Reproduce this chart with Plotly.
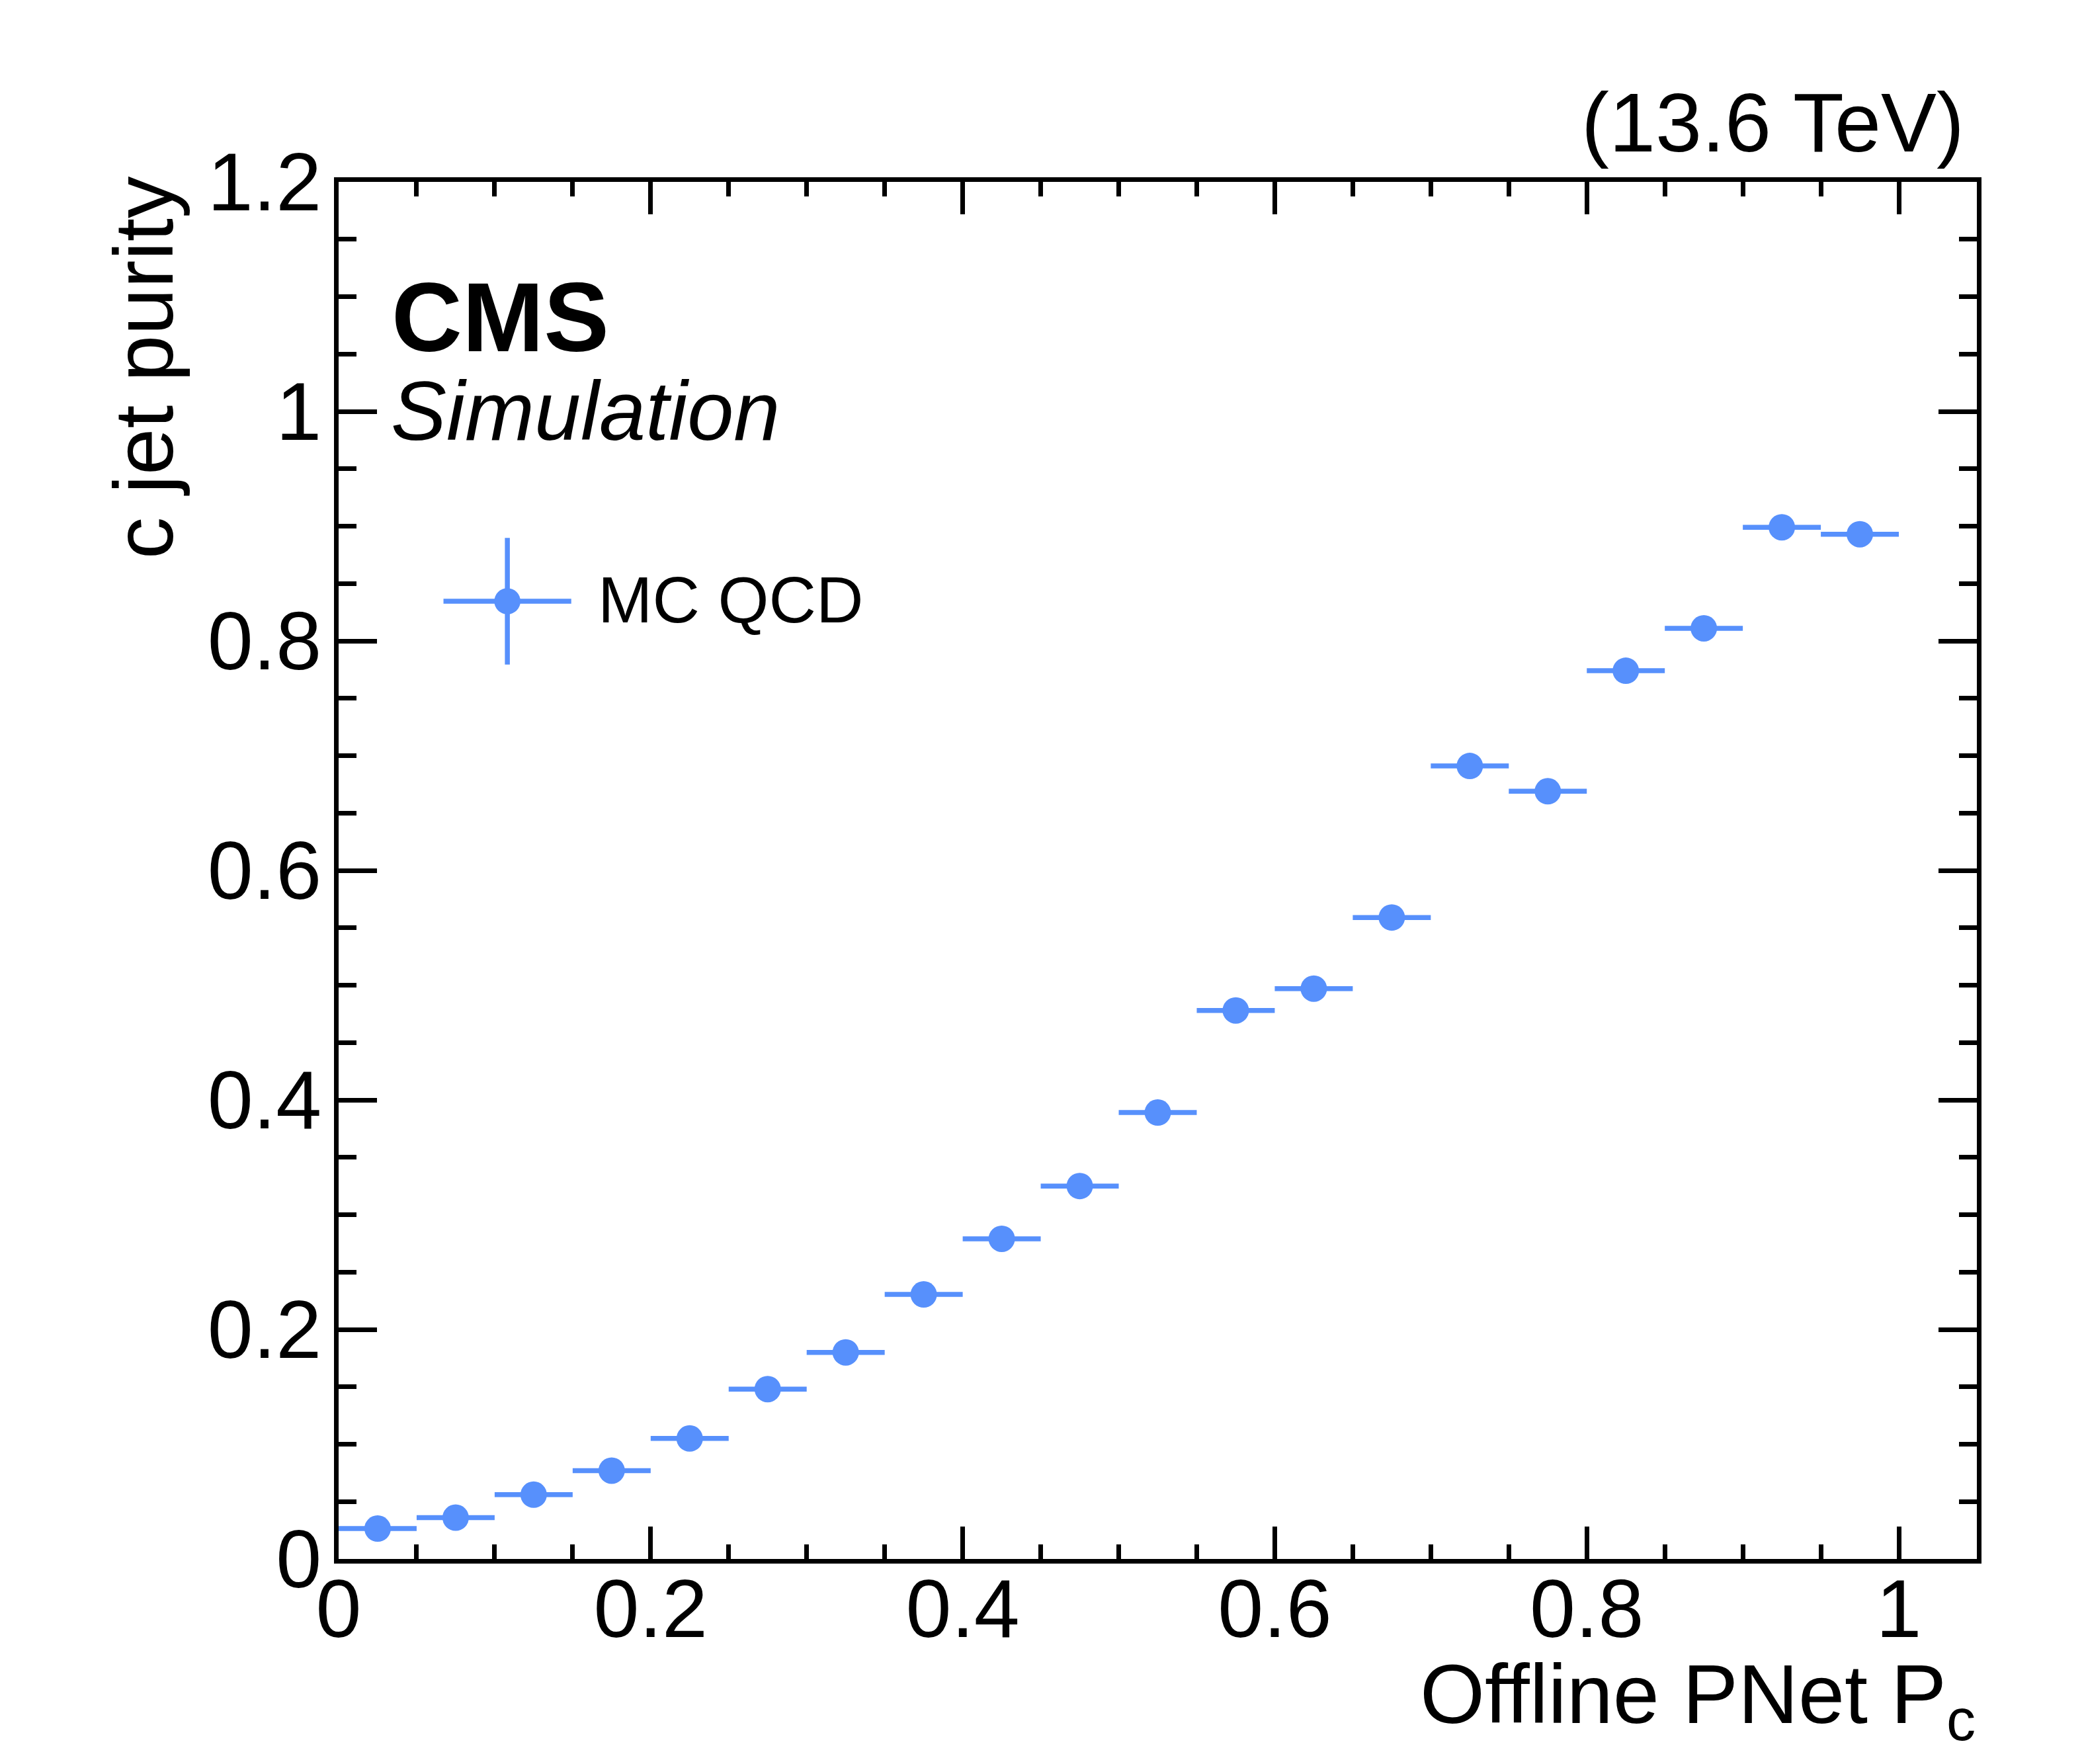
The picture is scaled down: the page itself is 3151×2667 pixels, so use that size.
import plotly.graph_objects as go

# bin centres of Offline PNet P_c and the c-jet purity in each bin
pnet_bins = [0.025, 0.075, 0.125, 0.175, 0.225, 0.275, 0.325, 0.375, 0.425, 0.475,
             0.525, 0.575, 0.625, 0.675, 0.725, 0.775, 0.825, 0.875, 0.925, 0.975]
bin_halfwidth = [0.025] * 20
purity = [0.0265, 0.036, 0.056, 0.077, 0.105, 0.148, 0.180, 0.2305, 0.279, 0.325,
          0.389, 0.478, 0.497, 0.559, 0.691, 0.669, 0.774, 0.811, 0.899, 0.893]

x_ticks = [0, 0.2, 0.4, 0.6, 0.8, 1]
y_ticks = [0, 0.2, 0.4, 0.6, 0.8, 1, 1.2]

blue = "#5790fc"
font = "Liberation Sans, Arial, sans-serif"

fig = go.Figure()
fig.add_trace(go.Scatter(
    x=pnet_bins,
    y=purity,
    mode="markers",
    marker=dict(color=blue, size=40),
    error_x=dict(type="data", array=bin_halfwidth, color=blue, thickness=7.5, width=0),
    showlegend=False,
))

axis_common = dict(
    showline=True, linecolor="black", linewidth=7, mirror="ticks",
    ticks="inside", tickcolor="black", tickwidth=7,
    showgrid=False, zeroline=False,
    tickfont=dict(family=font, size=124, color="black"),
)

fig.update_xaxes(
    range=[0, 1.05], tickvals=x_ticks, ticklen=49, ticklabelstandoff=-38,
    minor=dict(dtick=0.05, ticks="inside", ticklen=22, tickwidth=7, tickcolor="black"),
    **axis_common,
)
fig.update_yaxes(
    range=[0, 1.2], tickvals=y_ticks, ticklen=58, ticklabelstandoff=-6,
    minor=dict(dtick=0.05, ticks="inside", ticklen=27, tickwidth=7, tickcolor="black"),
    **axis_common,
)

# legend drawn by hand so the entry carries the error-bar cross like ROOT
lx, ly = 0.1030, 0.6955
fig.add_shape(type="line", xref="paper", yref="paper", x0=lx, x1=lx, y0=ly - 0.046, y1=ly + 0.046,
              line=dict(color=blue, width=7.5))
fig.add_shape(type="line", xref="paper", yref="paper", x0=lx - 0.039, x1=lx + 0.039, y0=ly, y1=ly,
              line=dict(color=blue, width=7.5))
fig.add_shape(type="circle", xref="paper", yref="paper", x0=lx - 0.0080, x1=lx + 0.0080,
              y0=ly - 0.0095, y1=ly + 0.0095, fillcolor=blue, line=dict(width=0))

notes = [
    dict(text="MC QCD", x=0.1575, y=0.6965, xanchor="left", yanchor="middle",
         font=dict(family=font, size=99, color="black")),
    dict(text="<b>CMS</b>", x=0.0315, y=0.9020, xanchor="left", yanchor="middle",
         font=dict(family=font, size=148, color="black")),
    dict(text="<i>Simulation</i>", x=0.0310, y=0.8335, xanchor="left", yanchor="middle",
         font=dict(family=font, size=126, color="black")),
    dict(text="(13.6 TeV)", x=0.9930, y=1.0430, xanchor="right", yanchor="middle",
         font=dict(family=font, size=126, color="black")),
    dict(text="Offline PNet P<sub>c</sub>", x=1.0, y=-0.1025, xanchor="right", yanchor="middle",
         font=dict(family=font, size=126, color="black")),
    dict(text="c jet purity", x=-0.1190, y=1.005, xanchor="center", yanchor="top", textangle=-90,
         font=dict(family=font, size=127, color="black")),
]
for n in notes:
    fig.add_annotation(xref="paper", yref="paper", showarrow=False, **n)

fig.update_layout(
    width=3151, height=2667,
    margin=dict(l=504, r=170, t=267, b=318),
    plot_bgcolor="white", paper_bgcolor="white",
)

fig.write_html("out.html")
